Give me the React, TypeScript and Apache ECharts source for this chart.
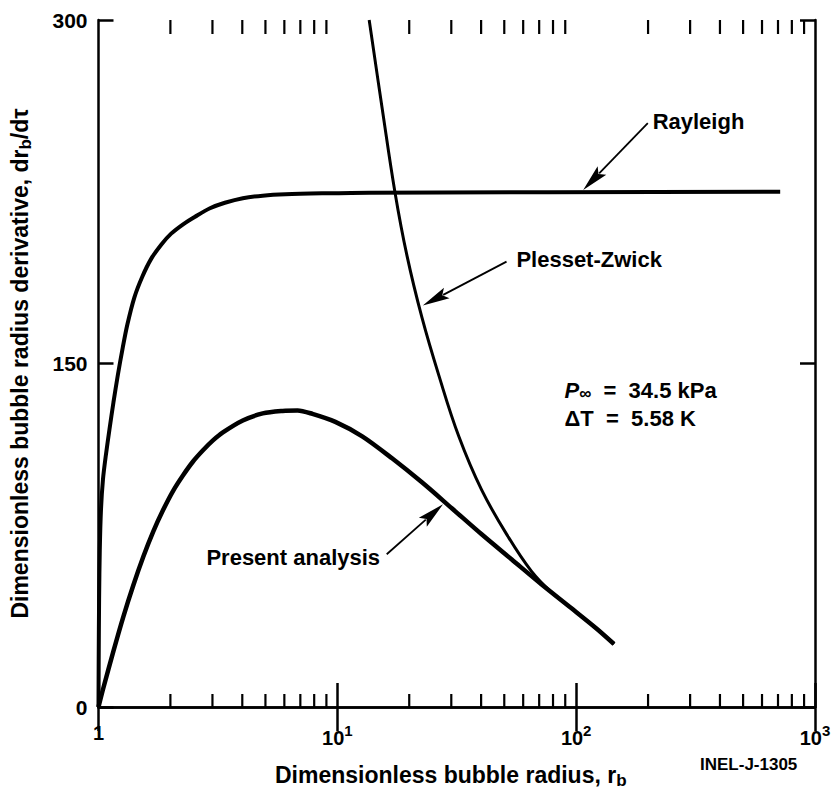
import React, { useEffect, useRef } from "react";
import * as echarts from "echarts";

// ---- data (x: dimensionless radius r_b, y: dr_b/dτ) ----
const rayleighR = [1, 1.0019, 1.0058, 1.0126, 1.0243, 1.0441, 1.0746, 1.1113, 1.1548, 1.206, 1.2589, 1.3208, 1.4125, 1.5252, 1.6633, 1.8302, 2.0143, 2.2605, 2.5365, 2.9286, 3.3819, 4.0194, 4.8697, 6.072, 8.6596, 13.594, 714.9];
const rayleighV = [0, 20.9, 47.1, 68.9, 86.3, 99.4, 110.3, 121.2, 133.0, 145.2, 156.1, 167.0, 178.8, 187.9, 195.8, 201.9, 206.7, 210.8, 214.1, 217.8, 220.2, 222.2, 223.3, 223.9, 224.3, 224.6, 225.0];

const presentR = [1, 1.0492, 1.1548, 1.271, 1.399, 1.5399, 1.6947, 1.8658, 2.0535, 2.2605, 2.4879, 2.7384, 3.0146, 3.3176, 4.0194, 4.8697, 5.8991, 6.8129, 7.865, 9.8101, 12.711, 16.947, 22.605, 30.146, 40.194, 53.6, 71.48, 95.32, 121.2, 144.0];
const presentV = [0, 8.5, 24.4, 39.5, 53.2, 65.6, 76.6, 86.1, 94.4, 101.2, 107.2, 112.1, 116.4, 119.9, 125.1, 128.2, 129.3, 129.5, 128.0, 124.5, 118.2, 108.6, 98.1, 86.8, 75.4, 64.5, 53.6, 43.2, 34.4, 27.5];

const plessetR = [13.594, 15.399, 17.443, 19.57, 22.605, 26.607, 32.246, 40.194, 52.08, 64.94, 78.7, 95.32, 121.2, 144.0];
const plessetV = [300.0, 261.6, 224.6, 197.1, 170.1, 144.8, 118.2, 94.8, 74.1, 59.3, 50.1, 43.2, 34.4, 27.5];

const minorTicks = [2, 3, 4, 5, 6, 7, 8, 9, 20, 30, 40, 50, 60, 70, 80, 90, 200, 300, 400, 500, 600, 700, 800, 900];
const yTicks = [0, 150, 300];

const FONT = '"Liberation Sans", Arial, Helvetica, sans-serif';

const zip = (xs: number[], ys: number[]) => xs.map((x, i) => [x, ys[i]]);

export default function App() {
  const ref = useRef<HTMLDivElement>(null);
  useEffect(() => {
    document.body.style.margin = "0";
    const chart = echarts.init(ref.current!, null, { renderer: "svg" });
    const lineCommon = { type: "line", showSymbol: false, symbol: "none", smooth: 0.3, silent: true, clip: true };
    const axisLineStyle = { color: "#000", width: 2.5 };
    const option: any = {
      animation: false,
      backgroundColor: "#fff",
      grid: { left: 95, right: 23, top: 20, bottom: 86 },
      xAxis: [
        {
          type: "log", logBase: 10, min: 1, max: 1000, position: "bottom",
          axisLine: { show: true, lineStyle: axisLineStyle },
          axisTick: { show: true, inside: true, length: 24, lineStyle: { color: "#000", width: 2.5 } },
          splitLine: { show: false }, minorTick: { show: false },
          axisLabel: {
            margin: 16, color: "#000", fontSize: 20, fontWeight: "bold", fontFamily: FONT,
            formatter: (v: number) => (v === 1 ? "1" : "10{sup|" + Math.round(Math.log10(v)) + "}"),
            rich: { sup: { fontSize: 15, fontWeight: "bold", fontFamily: FONT, color: "#000", padding: [0, 0, 14, 0] } },
          },
          name: "Dimensionless bubble radius, r{sub|b}",
          nameLocation: "middle", nameGap: 54,
          nameTextStyle: {
            color: "#000", fontSize: 23, fontWeight: "bold", fontFamily: FONT, padding: [0, 12, 0, 0],
            rich: { sub: { fontSize: 17, fontWeight: "bold", fontFamily: FONT, color: "#000", padding: [11, 0, 0, 0] } },
          },
        },
        {
          type: "log", logBase: 10, min: 1, max: 1000, position: "top",
          axisLine: { show: true, lineStyle: axisLineStyle },
          axisTick: { show: true, inside: true, length: 24, lineStyle: { color: "#000", width: 2.5 } },
          axisLabel: { show: false }, splitLine: { show: false },
        },
      ],
      yAxis: [
        {
          type: "value", min: 0, max: 300, interval: 150, position: "left",
          axisLine: { show: true, lineStyle: axisLineStyle },
          axisTick: { show: true, inside: true, length: 15, lineStyle: { color: "#000", width: 2.5 } },
          splitLine: { show: false },
          axisLabel: {
            margin: 11, color: "#000", fontSize: 21, fontWeight: "bold", fontFamily: FONT,
            formatter: (v: number) => (yTicks.includes(v) ? String(v) : ""),
          },
          name: "Dimensionless bubble radius derivative, dr{sub|b}/dτ",
          nameLocation: "middle", nameRotate: 90, nameGap: 65,
          nameTextStyle: {
            color: "#000", fontSize: 23, fontWeight: "bold", fontFamily: FONT,
            rich: { sub: { fontSize: 17, fontWeight: "bold", fontFamily: FONT, color: "#000", padding: [11, 0, 0, 0] } },
          },
        },
        {
          type: "value", min: 0, max: 300, interval: 150, position: "right",
          axisLine: { show: true, lineStyle: axisLineStyle },
          axisTick: { show: true, inside: true, length: 15, lineStyle: { color: "#000", width: 2.5 } },
          axisLabel: { show: false }, splitLine: { show: false },
        },
      ],
      series: [
        { ...lineCommon, name: "Rayleigh", data: zip(rayleighR, rayleighV), lineStyle: { color: "#000", width: 4 } },
        { ...lineCommon, name: "Present analysis", data: zip(presentR, presentV), lineStyle: { color: "#000", width: 4.5 } },
        { ...lineCommon, smooth: 0.4, name: "Plesset-Zwick", data: zip(plessetR, plessetV), lineStyle: { color: "#000", width: 3 } },
        {
          type: "custom", name: "minorTicks", silent: true, clip: false,
          data: minorTicks.map((v) => [v, 0]),
          encode: { x: 0, y: 1 },
          renderItem: (params: any, api: any) => {
            const v = api.value(0);
            const b = api.coord([v, 0]);
            const t = api.coord([v, 300]);
            const st = { stroke: "#000", lineWidth: 2.2 };
            return {
              type: "group",
              children: [
                { type: "line", shape: { x1: b[0], y1: b[1], x2: b[0], y2: b[1] - 13 }, style: st },
                { type: "line", shape: { x1: t[0], y1: t[1], x2: t[0], y2: t[1] + 14 }, style: st },
              ],
            };
          },
        },
      ],
    };
    chart.setOption(option);

    // annotations (positions in data coordinates)
    const toPx = (p: number[]) => chart.convertToPixel({ xAxisIndex: 0, yAxisIndex: 0 }, p) as number[];
    const arrows = [
      { tail: [199.5, 255], tip: [107, 225.8] },
      { tail: [51.1, 194.5], tip: [22.8, 175.3] },
      { tail: [16.1, 66.7], tip: [27.7, 88.5] },
    ];
    const graphics: any[] = [];
    arrows.forEach((a) => {
      const t = toPx(a.tail);
      const h = toPx(a.tip);
      const dx = h[0] - t[0], dy = h[1] - t[1];
      const L = Math.hypot(dx, dy);
      const ux = dx / L, uy = dy / L;
      const hl = 27, hw = 6;
      const bx = h[0] - ux * hl, by = h[1] - uy * hl;
      graphics.push({ type: "line", silent: true, shape: { x1: t[0], y1: t[1], x2: bx + ux * 4, y2: by + uy * 4 }, style: { stroke: "#000", lineWidth: 1.8 } });
      graphics.push({
        type: "polygon", silent: true,
        shape: { points: [[h[0], h[1]], [bx - uy * hw, by + ux * hw], [bx + ux * 5, by + uy * 5], [bx + uy * hw, by - ux * hw]] },
        style: { fill: "#000" },
      });
    });
    const labels = [
      { text: "Rayleigh", at: [209, 255.5], align: "left" },
      { text: "Plesset-Zwick", at: [56.2, 195.3], align: "left" },
      { text: "Present analysis", at: [15.1, 65.4], align: "right" },
    ];
    labels.forEach((l) => {
      const p = toPx(l.at);
      graphics.push({
        type: "text", silent: true, x: p[0], y: p[1],
        style: { text: l.text, fill: "#000", fontSize: 22, fontWeight: "bold", fontFamily: FONT, align: l.align, verticalAlign: "middle" },
      });
    });
    // conditions block
    const pInf = toPx([89.4, 138.0]);
    graphics.push({
      type: "text", silent: true, x: pInf[0], y: pInf[1],
      style: {
        text: "{i|P}{s|∞}  =  34.5 kPa", fill: "#000", fontSize: 22, fontWeight: "bold", fontFamily: FONT,
        verticalAlign: "middle", align: "left",
        rich: {
          i: { fontSize: 22, fontWeight: "bold", fontStyle: "italic", fontFamily: FONT, fill: "#000" },
          s: { fontSize: 17, fontWeight: "bold", fontFamily: FONT, fill: "#000", padding: [5, 0, 0, 0] },
        },
      },
    });
    const dT = toPx([89.4, 126.0]);
    graphics.push({
      type: "text", silent: true, x: dT[0], y: dT[1],
      style: { text: "ΔT  =  5.58 K", fill: "#000", fontSize: 22, fontWeight: "bold", fontFamily: FONT, verticalAlign: "middle", align: "left" },
    });
    graphics.push({
      type: "text", silent: true, left: 700, top: 756,
      style: { text: "INEL-J-1305", fill: "#000", fontSize: 17, fontWeight: "bold", fontFamily: FONT },
    });
    chart.setOption({ graphic: graphics });

    return () => chart.dispose();
  }, []);
  return <div ref={ref} style={{ position: "fixed", left: 0, top: 0, width: 838, height: 794, background: "#fff" }} />;
}
